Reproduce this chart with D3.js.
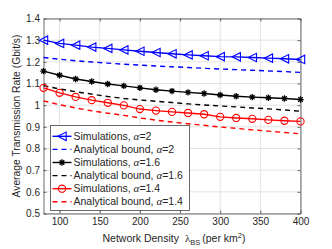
<!DOCTYPE html>
<html>
<head>
<meta charset="utf-8">
<script src="https://cdn.jsdelivr.net/npm/d3@7"></script>
<style>
  body { margin: 0; background: #fff; }
  text { font-family: "Liberation Sans", Arial, sans-serif; fill: #262626; }
  .greek { font-family: "Liberation Serif", "DejaVu Serif", serif; font-style: italic; }
</style>
</head>
<body>
<div id="chart"></div>
<script>
// network density (per km^2)
const density = [80, 100, 120, 140, 160, 180, 200, 220, 240, 260, 280, 300, 320, 340, 360, 380, 400]

const simAlpha2 = [1.300, 1.285, 1.277, 1.268, 1.262, 1.255, 1.249, 1.243, 1.237, 1.232, 1.228, 1.224, 1.223, 1.220, 1.217, 1.214, 1.211]
const boundAlpha2 = [1.220, 1.212, 1.205, 1.199, 1.194, 1.189, 1.185, 1.181, 1.177, 1.174, 1.170, 1.167, 1.164, 1.161, 1.158, 1.155, 1.151]
const simAlpha16 = [1.157, 1.138, 1.121, 1.109, 1.098, 1.089, 1.080, 1.071, 1.065, 1.059, 1.054, 1.047, 1.041, 1.037, 1.034, 1.031, 1.026]
const boundAlpha16 = [1.090, 1.075, 1.062, 1.051, 1.040, 1.031, 1.024, 1.018, 1.012, 1.006, 1.001, 0.996, 0.992, 0.987, 0.983, 0.978, 0.972]
const simAlpha14 = [1.080, 1.057, 1.038, 1.023, 1.011, 0.999, 0.982, 0.975, 0.969, 0.964, 0.958, 0.946, 0.941, 0.937, 0.932, 0.928, 0.925]
const boundAlpha14 = [1.020, 1.002, 0.987, 0.974, 0.963, 0.953, 0.941, 0.931, 0.922, 0.914, 0.907, 0.899, 0.893, 0.886, 0.880, 0.874, 0.868]

const xTicks = [100, 150, 200, 250, 300, 350, 400]
const yTicks = [0.5, 0.6, 0.7, 0.8, 0.9, 1, 1.1, 1.2, 1.3, 1.4]

const series = [
    {name: "Simulations, ", alpha: "2", values: simAlpha2, color: "#0000ff", dash: null, marker: "tri"},
    {name: "Analytical bound, ", alpha: "2", values: boundAlpha2, color: "#0000ff", dash: "5,4", marker: null},
    {name: "Simulations, ", alpha: "1.6", values: simAlpha16, color: "#000000", dash: null, marker: "star"},
    {name: "Analytical bound, ", alpha: "1.6", values: boundAlpha16, color: "#000000", dash: "5,4", marker: null},
    {name: "Simulations, ", alpha: "1.4", values: simAlpha14, color: "#ff0000", dash: null, marker: "circle"},
    {name: "Analytical bound, ", alpha: "1.4", values: boundAlpha14, color: "#ff0000", dash: "5,4", marker: null}
]

const W = 332, H = 249
const margin = {top: 18.5, right: 31.5, bottom: 35.5, left: 43.5}
const width = W - margin.left - margin.right,
    height = H - margin.top - margin.bottom

const svg = d3.select("#chart")
    .append("svg")
    .attr("width", W)
    .attr("height", H)

const g = svg.append("g")
    .attr("transform", "translate(" + margin.left + "," + margin.top + ")")

const x = d3.scaleLinear().domain([80, 400]).range([0, width])
const y = d3.scaleLinear().domain([0.5, 1.4]).range([height, 0])

// grid
g.append("g").selectAll("line")
    .data(xTicks)
    .join("line")
    .attr("x1", d => x(d)).attr("x2", d => x(d))
    .attr("y1", 0).attr("y2", height)
    .attr("stroke", "#e3e3e3").attr("stroke-width", 1)
g.append("g").selectAll("line")
    .data(yTicks)
    .join("line")
    .attr("x1", 0).attr("x2", width)
    .attr("y1", d => y(d)).attr("y2", d => y(d))
    .attr("stroke", "#e3e3e3").attr("stroke-width", 1)

// axes, ticks pointing inward like matlab
const axisColor = "#444"
const xAxis = g.append("g")
    .attr("transform", "translate(0," + height + ")")
    .call(d3.axisBottom(x).tickValues(xTicks).tickSizeInner(-3).tickSizeOuter(0).tickPadding(4))
const yAxis = g.append("g")
    .call(d3.axisLeft(y).tickValues(yTicks).tickFormat(d3.format("~g")).tickSizeInner(-3).tickSizeOuter(0).tickPadding(3.5))
const xTop = g.append("g")
    .call(d3.axisTop(x).tickValues(xTicks).tickSizeInner(-3).tickSizeOuter(0).tickFormat(""))
const yRight = g.append("g")
    .attr("transform", "translate(" + width + ",0)")
    .call(d3.axisRight(y).tickValues(yTicks).tickSizeInner(-3).tickSizeOuter(0).tickFormat(""))

for (const a of [xAxis, yAxis, xTop, yRight]) {
    a.selectAll("path, line").attr("stroke", axisColor).attr("stroke-width", 0.8)
    a.selectAll("text")
        .style("font-family", "'Liberation Sans', Arial, sans-serif")
        .style("font-size", "10px")
        .attr("fill", "#333")
}

// curves
const line = d3.line()
    .x((d, i) => x(density[i]))
    .y(d => y(d))

const curves = g.append("g")
series.forEach(s => {
    curves.append("path")
        .datum(s.values)
        .attr("fill", "none")
        .attr("stroke", s.color)
        .attr("stroke-width", 1.4)
        .attr("stroke-dasharray", s.dash)
        .attr("d", line)
})

function drawMarker(sel, type, color, cx, cy) {
    if (type === "tri") {
        const r = 4.2
        sel.append("path")
            .attr("d", "M" + (cx - r) + "," + cy + "L" + (cx + r) + "," + (cy - r) + "L" + (cx + r) + "," + (cy + r) + "Z")
            .attr("fill", "none").attr("stroke", color).attr("stroke-width", 1.1)
    } else if (type === "circle") {
        sel.append("circle")
            .attr("cx", cx).attr("cy", cy).attr("r", 3.6)
            .attr("fill", "none").attr("stroke", color).attr("stroke-width", 1.1)
    } else if (type === "star") {
        const r = 3.2
        let d = ""
        for (let k = 0; k < 4; k++) {
            const a = k * Math.PI / 4
            d += "M" + (cx - r * Math.cos(a)) + "," + (cy - r * Math.sin(a)) +
                "L" + (cx + r * Math.cos(a)) + "," + (cy + r * Math.sin(a))
        }
        sel.append("path").attr("d", d)
            .attr("fill", "none").attr("stroke", color).attr("stroke-width", 1.3)
    }
}

const markers = g.append("g")
series.filter(s => s.marker).forEach(s => {
    s.values.forEach((v, i) => drawMarker(markers, s.marker, s.color, x(density[i]), y(v)))
})

// legend
const leg = svg.append("g").attr("transform", "translate(50.5,125.5)")
leg.append("rect")
    .attr("width", 139).attr("height", 85)
    .attr("fill", "#fff").attr("stroke", "#444").attr("stroke-width", 0.8)

series.forEach((s, i) => {
    const ly = 10.8 + i * 13.1
    const row = leg.append("g")
    row.append("line")
        .attr("x1", 2).attr("x2", 21)
        .attr("y1", ly).attr("y2", ly)
        .attr("stroke", s.color).attr("stroke-width", 1.4)
        .attr("stroke-dasharray", s.dash)
    if (s.marker) drawMarker(row, s.marker, s.color, 11.5, ly)
    const t = row.append("text")
        .attr("x", 23).attr("y", ly + 3.6)
        .style("font-size", "10.5px")
        .attr("fill", "#000")
    t.append("tspan").text(s.name)
    t.append("tspan").attr("class", "greek").style("font-size", "11px").text("\u03b1")
    t.append("tspan").text("=" + s.alpha)
})

// axis labels
svg.append("text")
    .attr("transform", "translate(20," + (margin.top + height / 2) + ") rotate(-90)")
    .attr("text-anchor", "middle")
    .style("font-size", "10.3px")
    .attr("fill", "#333")
    .text("Average Transmission Rate (Gbit/s)")

const xl = svg.append("text")
    .attr("x", margin.left + width / 2 + 2)
    .attr("y", 242)
    .attr("text-anchor", "middle")
    .style("font-size", "10.5px")
    .attr("fill", "#333")
xl.append("tspan").text("Network Density")
xl.append("tspan").attr("dx", 6).attr("class", "greek").style("font-style", "normal").style("font-size", "11px").text("\u03bb")
xl.append("tspan").attr("dy", 3).style("font-size", "7.5px").text("BS")
xl.append("tspan").attr("dy", -3).attr("dx", 2).text("(per km")
xl.append("tspan").attr("dy", -4).style("font-size", "7.5px").text("2")
xl.append("tspan").attr("dy", 4).text(")")
</script>
</body>
</html>
